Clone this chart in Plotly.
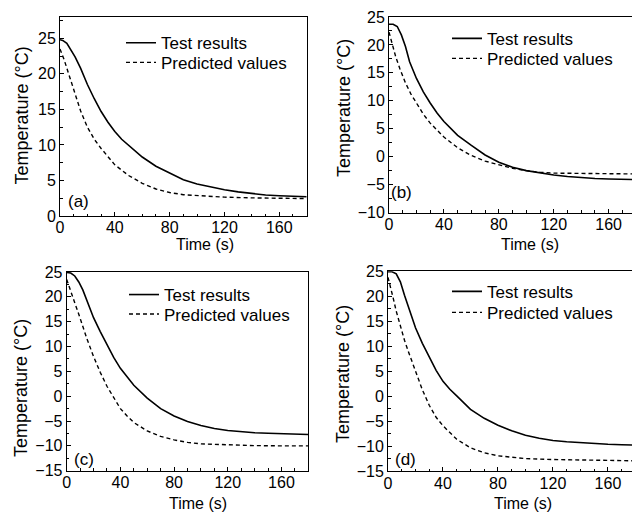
import plotly.graph_objects as go

W, H = 632, 516
FONT = "Liberation Sans, Arial, sans-serif"

# ---------------- data ----------------
t_test_a = [0, 2, 5, 8, 11, 15, 20, 25, 30, 35, 40, 45, 50, 60, 70, 80, 90, 100, 110, 120, 130, 140, 150, 160, 170, 180]
test_a = [24.8, 24.7, 24.3, 23.4, 22.4, 20.8, 18.5, 16.5, 14.7, 13.2, 11.9, 10.8, 10.0, 8.3, 7.0, 6.0, 5.1, 4.5, 4.05, 3.7, 3.4, 3.15, 2.95, 2.85, 2.8, 2.7]
t_pred_a = [0, 3, 6, 10, 15, 20, 25, 30, 35, 40, 50, 60, 70, 80, 90, 100, 120, 140, 160, 180]
pred_a = [23.5, 22.0, 20.2, 17.7, 14.8, 12.5, 10.8, 9.5, 8.3, 7.2, 5.7, 4.6, 3.8, 3.3, 3.0, 2.85, 2.65, 2.55, 2.5, 2.45]

t_test_b = [0, 3, 6, 9, 12, 15, 20, 25, 30, 35, 40, 45, 50, 60, 70, 80, 90, 100, 110, 120, 130, 140, 150, 160, 170, 180]
test_b = [23.7, 23.7, 23.3, 21.8, 19.7, 17.0, 14.0, 11.6, 9.6, 7.8, 6.3, 5.0, 3.8, 2.0, 0.3, -1.0, -1.9, -2.5, -2.9, -3.3, -3.55, -3.75, -3.9, -4.0, -4.1, -4.1]
t_pred_b = [0, 2, 5, 8, 12, 16, 20, 25, 30, 35, 40, 50, 60, 70, 80, 90, 100, 110, 120, 140, 160, 180]
pred_b = [22.3, 20.5, 17.8, 15.7, 13.2, 11.2, 9.5, 7.6, 6.0, 4.7, 3.5, 1.6, 0.2, -0.8, -1.5, -2.1, -2.5, -2.8, -2.95, -3.05, -3.1, -3.1]

t_test_c = [0, 3, 6, 9, 12, 15, 20, 25, 30, 35, 40, 45, 50, 60, 70, 80, 90, 100, 110, 120, 130, 140, 150, 160, 170, 180]
test_c = [24.9, 24.8, 24.2, 23.0, 21.4, 19.4, 15.8, 13.0, 10.3, 7.8, 5.6, 3.8, 2.2, -0.4, -2.5, -4.0, -5.1, -5.9, -6.5, -6.9, -7.2, -7.35, -7.45, -7.5, -7.6, -7.7]
t_pred_c = [0, 3, 6, 9, 12, 15, 20, 25, 30, 35, 40, 45, 50, 60, 70, 80, 90, 100, 120, 140, 160, 180]
pred_c = [23.5, 21.0, 18.8, 16.5, 14.0, 11.6, 8.0, 4.8, 2.0, -0.4, -2.5, -4.0, -5.3, -7.0, -8.1, -8.8, -9.3, -9.6, -9.85, -9.95, -10.0, -10.0]

t_test_d = [0, 3, 6, 9, 12, 15, 20, 25, 30, 35, 40, 45, 50, 60, 70, 80, 90, 100, 110, 120, 130, 140, 150, 160, 170, 180]
test_d = [24.9, 24.9, 24.5, 22.9, 20.2, 17.6, 13.7, 10.6, 7.8, 5.2, 3.0, 1.4, 0.1, -2.6, -4.4, -5.8, -6.9, -7.8, -8.4, -8.85, -9.1, -9.3, -9.5, -9.6, -9.7, -9.75]
t_pred_d = [0, 2, 4, 6, 9, 12, 15, 20, 25, 30, 35, 40, 45, 50, 60, 70, 80, 90, 100, 120, 140, 160, 180]
pred_d = [23.8, 21.8, 19.4, 17.0, 14.0, 11.2, 8.8, 5.0, 1.3, -1.8, -4.2, -5.9, -7.3, -8.6, -10.3, -11.3, -11.9, -12.25, -12.45, -12.65, -12.75, -12.85, -12.9]

panel_labels = ["(a)", "(b)", "(c)", "(d)"]
series_names = ["Test results", "Predicted values"]
x_ticks = [0, 40, 80, 120, 160]
y_ticks_a = [0, 5, 10, 15, 20, 25]
y_ticks_b = [-10, -5, 0, 5, 10, 15, 20, 25]
y_ticks_cd = [-15, -10, -5, 0, 5, 10, 15, 20, 25]

# ---------------- layout helpers (pixel -> paper) ----------------
def px(x):
    return x / W

def py(y):
    return 1 - y / H

panels = [
    dict(box=(60, 306.7, 17, 216), xr=[0, 180], yr=[0, 28], yt=y_ticks_a, mirror=True,
         data=(t_test_a, test_a, t_pred_a, pred_a),
         legend=(121, 42.7, 62.3), label=(78, 201.5), ytitle=(21.5, 116), xtitle=(205, 245)),
    dict(box=(389, 632, 17, 212.5), xr=[0, 177], yr=[-10, 25], yt=y_ticks_b, mirror=False,
         data=(t_test_b, test_b, t_pred_b, pred_b),
         legend=(447, 38.3, 58.3), label=(401, 192.5), ytitle=(344, 108), xtitle=(530, 245)),
    dict(box=(66.7, 308.3, 272, 470.7), xr=[0, 180], yr=[-15, 25], yt=y_ticks_cd, mirror=True,
         data=(t_test_c, test_c, t_pred_c, pred_c),
         legend=(124, 294.5, 314), label=(83.5, 459.5), ytitle=(21, 388), xtitle=(198, 503)),
    dict(box=(388, 632, 271.3, 471.3), xr=[0, 177.5], yr=[-15, 25], yt=y_ticks_cd, mirror=False,
         data=(t_test_d, test_d, t_pred_d, pred_d),
         legend=(447, 291.3, 312.3), label=(405, 459), ytitle=(343, 374), xtitle=(523, 503)),
]

LEG_OFFSET = 17.5  # px from legend top to centre of its single row

fig = go.Figure()
layout = dict(
    width=W, height=H,
    showlegend=True,
    margin=dict(l=0, r=0, t=0, b=0, autoexpand=False),
    paper_bgcolor="white", plot_bgcolor="white",
    font=dict(family=FONT, size=16, color="black"),
    annotations=[],
)

def legend_name(k):
    return "legend" if k == 1 else "legend" + str(k)

for i, p in enumerate(panels):
    n = "" if i == 0 else str(i + 1)
    xa, ya = "x" + n, "y" + n
    leg_t = legend_name(2 * i + 1)
    leg_p = legend_name(2 * i + 2)
    tt, tv, pt, pv = p["data"]
    fig.add_trace(go.Scatter(x=tt, y=tv, mode="lines", name=series_names[0],
                             line=dict(color="black", width=1.6), showlegend=True,
                             xaxis=xa, yaxis=ya, legend=leg_t))
    fig.add_trace(go.Scatter(x=pt, y=pv, mode="lines", name=series_names[1],
                             line=dict(color="black", width=1.4, dash="4px,3px"), showlegend=True,
                             xaxis=xa, yaxis=ya, legend=leg_p))
    x0, x1, yt_, yb_ = p["box"]
    layout["xaxis" + n] = dict(
        domain=[px(x0), min(1.0, px(x1))], range=p["xr"], anchor=ya,
        showgrid=False, zeroline=False, showline=True, linecolor="black", linewidth=1,
        mirror=True, ticks="inside", ticklen=4, tickcolor="black",
        tickvals=x_ticks, ticktext=[str(v) for v in x_ticks],
        minor=dict(ticks="inside", ticklen=2.5, dtick=10, tick0=0, tickcolor="black"),
        tickfont=dict(size=16, family=FONT), fixedrange=True,
        ticklabelstandoff=-3,
    )
    layout["yaxis" + n] = dict(
        domain=[py(yb_), py(yt_)], range=p["yr"], anchor=xa,
        showgrid=False, zeroline=False, showline=True, linecolor="black", linewidth=1,
        mirror=p["mirror"], ticks="inside", ticklen=4, tickcolor="black",
        tickvals=p["yt"], ticktext=[str(v).replace("-", "\u2212") for v in p["yt"]],
        minor=dict(ticks="inside", ticklen=2.5, dtick=2.5, tick0=0, tickcolor="black"),
        tickfont=dict(size=16, family=FONT), fixedrange=True,
    )
    lx, r1, r2 = p["legend"]
    for leg, rc in ((leg_t, r1), (leg_p, r2)):
        layout[leg] = dict(
            visible=True,
            x=px(lx), y=py(rc - LEG_OFFSET), xanchor="left", yanchor="top",
            bgcolor="rgba(0,0,0,0)", borderwidth=0,
            font=dict(size=17, family=FONT, color="black"), itemwidth=30,
        )
    ax_, ay_ = p["label"]
    layout["annotations"].append(dict(
        text=panel_labels[i], x=px(ax_), y=py(ay_), xref="paper", yref="paper",
        showarrow=False, font=dict(size=17, family=FONT), xanchor="center", yanchor="middle"))
    tx, ty = p["ytitle"]
    layout["annotations"].append(dict(
        text="Temperature (\u00b0C)", x=px(tx), y=py(ty), xref="paper", yref="paper",
        showarrow=False, textangle=-90, font=dict(size=18, family=FONT),
        xanchor="center", yanchor="middle"))
    sx, sy = p["xtitle"]
    layout["annotations"].append(dict(
        text="Time (s)", x=px(sx), y=py(sy), xref="paper", yref="paper",
        showarrow=False, font=dict(size=16, family=FONT),
        xanchor="center", yanchor="middle"))

fig.update_layout(**layout)
fig.write_html("out.html", config={"displayModeBar": False},
               post_script="document.body.style.margin='0';document.body.style.overflow='hidden';")
